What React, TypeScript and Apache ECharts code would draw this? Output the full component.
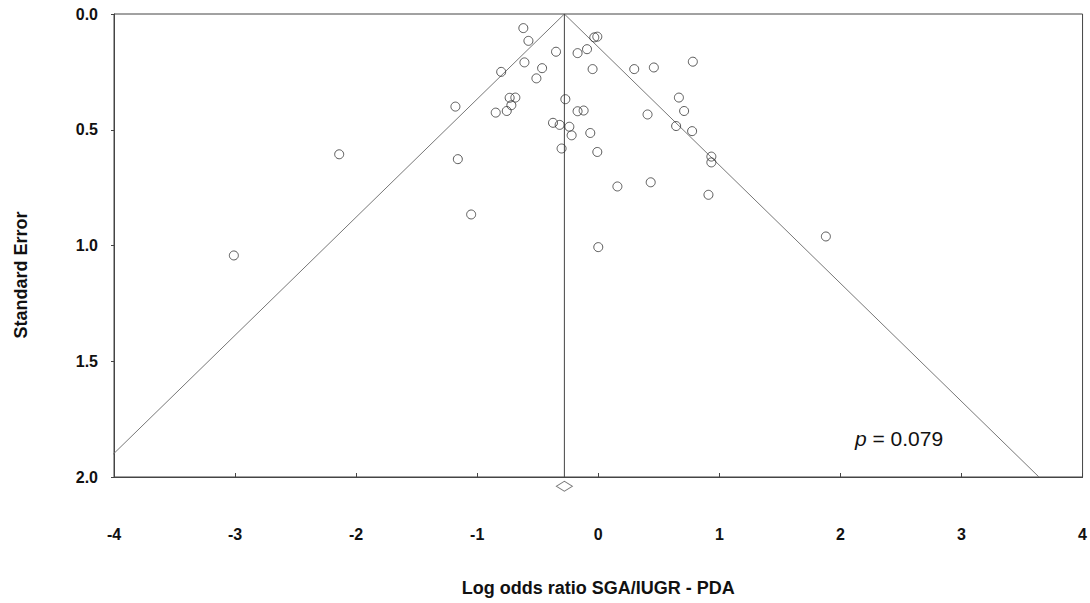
import React, { useEffect, useRef } from "react";
import * as echarts from "echarts";

// Study log odds ratios (x) and standard errors (y)
const logOddsRatios: number[] = [
  -0.619, -0.577, -0.349, -0.171, -0.093, -0.033, -0.008, -0.61, -0.464, -0.802,
  -0.047, 0.297, 0.459, 0.781, -0.511, -0.732, -0.685, -0.718, -0.847, -0.756,
  -1.18, -0.272, -0.171, -0.121, 0.666, 0.709, 0.407, -0.374, -0.319, -0.239,
  -0.22, -0.066, 0.643, 0.775, -0.303, -0.008, -1.16, -2.14, 0.934, 0.934,
  0.158, 0.433, 0.91, -1.05, 0.0, -3.01, 1.88,
];
const standardErrors: number[] = [
  0.061, 0.116, 0.163, 0.169, 0.152, 0.101, 0.098, 0.209, 0.234, 0.25,
  0.238, 0.238, 0.231, 0.206, 0.278, 0.362, 0.361, 0.394, 0.426, 0.419,
  0.4, 0.368, 0.42, 0.417, 0.361, 0.419, 0.434, 0.47, 0.479, 0.487,
  0.524, 0.514, 0.484, 0.506, 0.581, 0.596, 0.627, 0.606, 0.616, 0.641,
  0.745, 0.727, 0.781, 0.866, 1.007, 1.043, 0.961,
];
const pooledEstimate = -0.28;
const zCritical = 1.96;
const maxSE = 2.0;
const diamondSE = 2.04;
const xTicks: number[] = [-4, -3, -2, -1, 0, 1, 2, 3, 4];
const pValueText = "0.079";
const xTitle = "Log odds ratio SGA/IUGR - PDA";
const yTitle = "Standard Error";

export default function App() {
  const ref = useRef<HTMLDivElement>(null);
  useEffect(() => {
    if (!ref.current) return;
    const chart = echarts.init(ref.current, null, { renderer: "svg" });
    const points = logOddsRatios.map((x, i) => [x, standardErrors[i]]);
    const funnel = [
      [pooledEstimate - zCritical * maxSE, maxSE],
      [pooledEstimate, 0],
      [pooledEstimate + zCritical * maxSE, maxSE],
    ];
    const font = "'Liberation Sans', Arial, sans-serif";
    chart.setOption({
      animation: false,
      backgroundColor: "#ffffff",
      grid: {
        left: 114,
        right: 3,
        top: 14,
        bottom: 126,
        show: true,
        borderColor: "#444",
        borderWidth: 1,
        backgroundColor: "transparent",
      },
      xAxis: {
        type: "value",
        min: xTicks[0],
        max: xTicks[xTicks.length - 1],
        interval: 1,
        splitLine: { show: false },
        axisLine: { show: true, onZero: false, lineStyle: { color: "#444", width: 1 } },
        axisTick: { show: true, inside: true, length: 4, lineStyle: { color: "#444" } },
        axisLabel: {
          margin: 49,
          color: "#111",
          fontFamily: font,
          fontWeight: "bold",
          fontSize: 16,
        },
        name: xTitle,
        nameLocation: "middle",
        nameGap: 102,
        nameTextStyle: { color: "#111", fontFamily: font, fontWeight: "bold", fontSize: 18 },
      },
      yAxis: {
        type: "value",
        inverse: true,
        min: 0,
        max: maxSE,
        interval: 0.5,
        splitLine: { show: false },
        axisLine: { show: true, onZero: false, lineStyle: { color: "#444", width: 1 } },
        axisTick: { show: true, inside: false, length: 3, lineStyle: { color: "#444" } },
        axisLabel: {
          margin: 16,
          color: "#111",
          fontFamily: font,
          fontWeight: "bold",
          fontSize: 16,
          formatter: (v: number) => v.toFixed(1),
        },
      },
      series: [
        {
          type: "line",
          data: funnel,
          symbol: "none",
          silent: true,
          lineStyle: { color: "#777", width: 1 },
          z: 2,
        },
        {
          type: "line",
          data: [
            [pooledEstimate, 0],
            [pooledEstimate, maxSE],
          ],
          symbol: "none",
          silent: true,
          lineStyle: { color: "#444", width: 1 },
          z: 2,
        },
        {
          type: "scatter",
          data: points,
          symbol: "circle",
          symbolSize: 9,
          itemStyle: { color: "rgba(255,255,255,0)", borderColor: "#333", borderWidth: 1 },
          z: 3,
        },
        {
          type: "scatter",
          data: [[pooledEstimate, diamondSE]],
          symbol: "diamond",
          symbolSize: [16, 10],
          clip: false,
          itemStyle: { color: "#fff", borderColor: "#555", borderWidth: 1 },
          z: 3,
        },
      ],
      graphic: [
        {
          type: "text",
          x: 21,
          y: 275,
          rotation: Math.PI / 2,
          style: {
            text: yTitle,
            fontFamily: font,
            fontWeight: "bold",
            fontSize: 18,
            fill: "#111",
            align: "center",
            verticalAlign: "middle",
          },
        },
        {
          type: "text",
          left: 855,
          top: 428,
          style: {
            text: "{i|p} = " + pValueText,
            fontFamily: font,
            fontSize: 21,
            fill: "#111",
            rich: {
              i: { fontStyle: "italic", fontFamily: font, fontSize: 21, fill: "#111" },
            },
          },
        },
      ],
    });
    return () => chart.dispose();
  }, []);
  return <div ref={ref} style={{ width: 1090, height: 603, position: "absolute", left: 0, top: 0 }} />;
}
